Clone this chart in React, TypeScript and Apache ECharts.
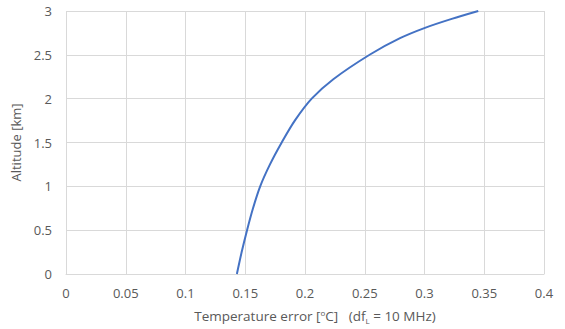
import React, { useEffect, useRef } from "react";
import * as echarts from "echarts";

const tempError = [0.143, 0.147, 0.1515, 0.1565, 0.1625, 0.1707, 0.1805, 0.1916, 0.2056, 0.2237, 0.2544, 0.2795, 0.3004, 0.3228, 0.345];
const altitude = [0, 0.25, 0.5, 0.75, 1.0, 1.25, 1.5, 1.752, 2.0, 2.222, 2.504, 2.69, 2.808, 2.91, 3.0];

const FONT = "'Open Sans', 'Noto Sans', sans-serif";
const GREY = "#595959";

export default function App() {
  const ref = useRef<HTMLDivElement>(null);
  useEffect(() => {
    if (!ref.current) return;
    const chart = echarts.init(ref.current, null, { renderer: "svg" });
    const data = tempError.map((x, i) => [x, altitude[i]]);
    chart.setOption({
      animation: false,
      textStyle: { fontFamily: FONT },
      grid: { left: 66, right: 21, top: 11, bottom: 52, containLabel: false },
      xAxis: {
        type: "value",
        min: 0,
        max: 0.4,
        interval: 0.05,
        name: "Temperature error [{sup|o}C]   (df{sub|L} = 10 MHz)",
        nameLocation: "middle",
        nameGap: 34,
        nameTextStyle: {
          color: GREY,
          fontSize: 13.5,
          fontFamily: FONT,
          lineHeight: 16,
          padding: [0, 0, 0, 20],
          rich: {
            sup: { fontSize: 8, verticalAlign: "top", lineHeight: 16, color: GREY, fontFamily: FONT },
            sub: { fontSize: 8, verticalAlign: "bottom", lineHeight: 12, color: GREY, fontFamily: FONT },
          },
        },
        axisLine: { show: true, lineStyle: { color: "#d9d9d9", width: 1 } },
        axisTick: { show: false },
        axisLabel: { color: GREY, fontSize: 13, margin: 12, fontFamily: FONT },
        splitLine: { show: true, lineStyle: { color: "#d9d9d9", width: 1 } },
      },
      yAxis: {
        type: "value",
        min: 0,
        max: 3,
        interval: 0.5,
        name: "Altitude [km]",
        nameLocation: "middle",
        nameGap: 36,
        nameRotate: 90,
        nameTextStyle: { color: GREY, fontSize: 13, fontFamily: FONT },
        axisLine: { show: false },
        axisTick: { show: false },
        axisLabel: { color: GREY, fontSize: 13, margin: 14, fontFamily: FONT },
        splitLine: { show: true, lineStyle: { color: "#d9d9d9", width: 1 } },
      },
      series: [
        {
          type: "line",
          data,
          showSymbol: false,
          symbol: "none",
          smooth: 0.3,
          lineStyle: { color: "#4472c4", width: 2 },
        },
      ],
    });
    return () => chart.dispose();
  }, []);
  return (
    <div
      ref={ref}
      style={{ position: "absolute", left: 0, top: 0, width: 565, height: 329, background: "#fff" }}
    />
  );
}
